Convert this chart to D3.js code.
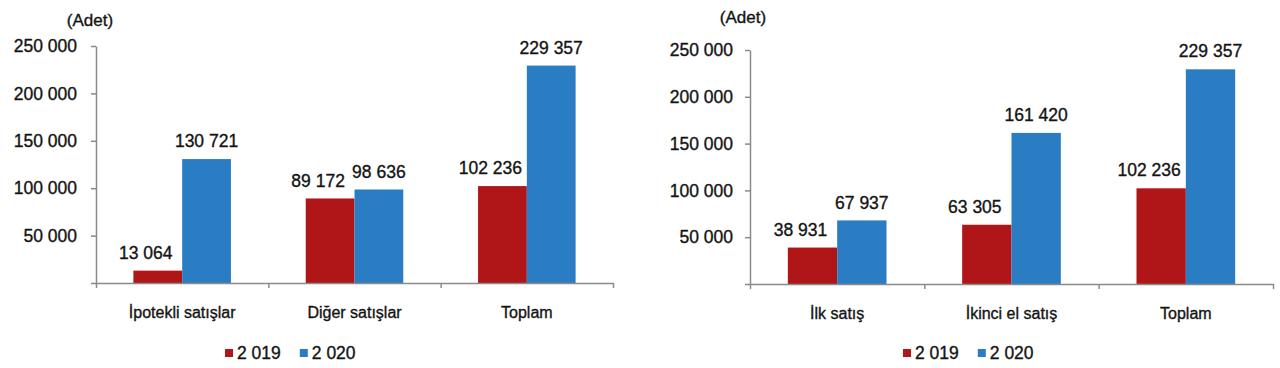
<!DOCTYPE html>
<html><head><meta charset="utf-8">
<script src="https://cdn.jsdelivr.net/npm/d3@7"></script>
<style>
html,body{margin:0;padding:0;background:#fff;}
svg{display:block;font-family:"Liberation Sans",Arial,sans-serif;}
svg text{stroke:#141414;stroke-width:0.35px;}
</style></head>
<body>
<svg id="chart" width="1280" height="368"></svg>
<script>
// ---- data ----
const seriesNames = ["2 019", "2 020"];
const categoriesLeft = ["İpotekli satışlar", "Diğer satışlar", "Toplam"];
const values2019Left = [13064, 89172, 102236];
const values2020Left = [130721, 98636, 229357];
const categoriesRight = ["İlk satış", "İkinci el satış", "Toplam"];
const values2019Right = [38931, 63305, 102236];
const values2020Right = [67937, 161420, 229357];
const yTickValues = [0, 50000, 100000, 150000, 200000, 250000];
const unitLabel = "(Adet)";

// ---- styling / layout ----
const colors = ["#B01518", "#2A7CC3"];
const axisColor = "#8a8a8a";
const textColor = "#141414";
const fmt = d3.formatLocale({decimal: ",", thousands: " ", grouping: [3]}).format(",d");

const panels = [
  {cats: categoriesLeft, s: [values2019Left, values2020Left], x0: 96, x1: 613, yTop: 46, yBot: 283, tickPad: 14, unitX: 90, unitY: 20, legendX: 225},
  {cats: categoriesRight, s: [values2019Right, values2020Right], x0: 750, x1: 1273, yTop: 50, yBot: 284, tickPad: 12, unitX: 743, unitY: 17, legendX: 903}
];

const svg = d3.select("#chart");

panels.forEach(p => {
  const g = svg.append("g");
  const y = d3.scaleLinear().domain([0, 250000]).range([p.yBot, p.yTop]);
  const x = d3.scaleBand().domain(p.cats).range([p.x0, p.x1]).padding(0);
  const bw = x.bandwidth();
  const xs = d3.scaleBand().domain(seriesNames).range([bw * 0.217, bw * 0.783]).padding(0);

  // bars
  seriesNames.forEach((sn, si) => {
    g.append("g").selectAll("rect").data(p.cats).join("rect")
      .attr("x", c => x(c) + xs(sn))
      .attr("width", xs.bandwidth())
      .attr("y", (c, i) => y(p.s[si][i]))
      .attr("height", (c, i) => y(0) - y(p.s[si][i]))
      .attr("fill", colors[si]);
  });

  // y axis
  const ya = d3.axisLeft(y).tickValues(yTickValues).tickSize(5).tickSizeOuter(0)
    .tickPadding(p.tickPad).tickFormat(d => d === 0 ? "" : fmt(d));
  const yg = g.append("g").attr("transform", `translate(${p.x0},0)`).call(ya);
  yg.select(".domain").attr("stroke", axisColor).attr("stroke-width", 1.5);
  yg.selectAll(".tick line").attr("stroke", axisColor).attr("stroke-width", 1.5);
  yg.selectAll(".tick text").attr("fill", textColor).style("font-size", "17.5px");

  // x axis
  const xa = d3.axisBottom(d3.scaleLinear().domain([0, p.cats.length]).range([p.x0, p.x1]))
    .tickValues(d3.range(p.cats.length + 1)).tickSize(5).tickSizeOuter(0).tickFormat("");
  const xg = g.append("g").attr("transform", `translate(0,${y(0)})`).call(xa);
  xg.select(".domain").attr("stroke", axisColor).attr("stroke-width", 1.5);
  xg.selectAll(".tick line").attr("stroke", axisColor).attr("stroke-width", 1.5);

  // category labels
  g.append("g").selectAll("text").data(p.cats).join("text")
    .attr("x", c => x(c) + bw / 2)
    .attr("y", y(0) + 29)
    .attr("dy", "0.35em")
    .attr("text-anchor", "middle")
    .attr("fill", textColor)
    .style("font-size", "16px")
    .text(c => c);

  // value labels
  seriesNames.forEach((sn, si) => {
    g.append("g").selectAll("text").data(p.cats).join("text")
      .attr("x", c => x(c) + xs(sn) + xs.bandwidth() / 2 + (si === 0 ? -12 : 0))
      .attr("y", (c, i) => y(p.s[si][i]) - 18)
      .attr("dy", "0.35em")
      .attr("text-anchor", "middle")
      .attr("fill", textColor)
      .style("font-size", "17.5px")
      .text((c, i) => fmt(p.s[si][i]));
  });

  // unit label
  g.append("text").attr("x", p.unitX).attr("y", p.unitY).attr("dy", "0.35em")
    .attr("text-anchor", "middle").attr("fill", textColor).style("font-size", "17px")
    .text(unitLabel);

  // legend
  const lg = g.append("g").attr("transform", `translate(${p.legendX},353)`);
  let lx = 0;
  seriesNames.forEach((sn, si) => {
    lg.append("rect").attr("x", lx).attr("y", -4).attr("width", 8).attr("height", 8).attr("fill", colors[si]);
    const t = lg.append("text").attr("x", lx + 12).attr("y", 0).attr("dy", "0.35em")
      .attr("fill", textColor).style("font-size", "17.5px").text(sn);
    lx += 12 + t.node().getComputedTextLength() + 19;
  });
});
</script>
</body></html>
